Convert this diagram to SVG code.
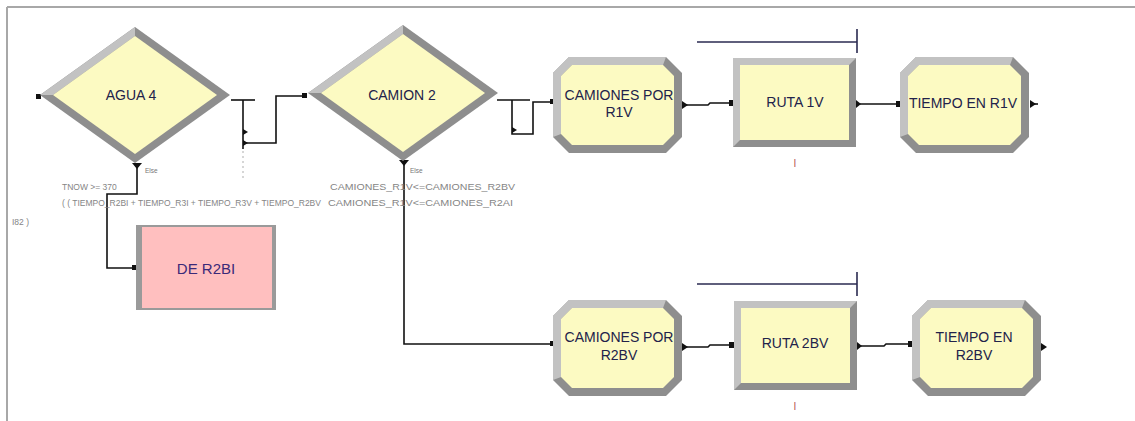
<svg xmlns="http://www.w3.org/2000/svg" width="1135" height="421" viewBox="0 0 1135 421">
<style>
.frame{stroke:#a8a8a8;stroke-width:2;fill:none}
.conn{stroke:#111;stroke-width:1.6;fill:none}
.port{fill:#111}
.dot{stroke:#bbb;stroke-width:1.2;stroke-dasharray:2 3;fill:none}
.lbl{font-family:"Liberation Sans",Arial,sans-serif;font-size:14px;fill:#22224a;text-anchor:middle}
.small{font-family:"Liberation Sans",Arial,sans-serif;font-size:8.5px;fill:#858585}
.tiny{font-family:"Liberation Sans",Arial,sans-serif;font-size:6.5px;fill:#777}
.bar{stroke:#2a2a50;stroke-width:1.6;fill:none}
.mark{font-family:"Liberation Sans",Arial,sans-serif;font-size:10px;fill:#b85050;text-anchor:middle}
.yel{fill:#fcfac2}
.dark{fill:#8e8e8e}
.light{fill:#c2c2c2}
</style>
<defs>
<g id="diamond">
<polygon class="dark" points="-95,0 0,-68 95,0 0,68"/>
<polygon class="light" points="-95,0 0,-68 0,-59 -82,0"/>
<polygon class="yel" points="-82,0 0,-59 82,0 0,59"/>
</g>
<g id="oct">
<polygon class="dark" points="16,0 113,0 129,16 129,80 113,96 16,96 0,80 0,16"/>
<polygon class="light" points="16,0 113,0 110,8 19,8 8,19 8,77 0,80 0,16"/>
<polygon class="yel" points="19,8 110,8 121,19 121,77 110,88 19,88 8,77 8,19"/>
</g>
<g id="rect">
<rect class="dark" x="0" y="0" width="123" height="89"/>
<polygon class="light" points="0,0 123,0 116,7 7,7 7,82 0,89"/>
<rect class="yel" x="7" y="7" width="109" height="75"/>
</g>
</defs>
<line class="frame" x1="7" y1="7" x2="1135" y2="7"/>
<line class="frame" x1="7" y1="7" x2="7" y2="421"/>
<g id="connectors">
<polyline class="conn" points="231,100 255,100"/>
<polyline class="conn" points="243,100 243,149"/>
<polyline class="conn" points="243,143 276,143 276,96 303,96"/>
<polygon class="port" points="243,129 243,135 248,132"/>
<polygon class="port" points="243,140 243,146 248,143"/>
<line class="dot" x1="243" y1="151" x2="243" y2="180"/>
<rect class="port" x="302" y="93" width="5" height="5"/>
<rect class="port" x="36" y="94" width="5" height="5"/>
<polygon class="port" points="132,163 142,163 137,169"/>
<polyline class="conn" points="137,166 137,194 107,194 107,268 133,268"/>
<rect class="port" x="132" y="265" width="5" height="5"/>
<polyline class="conn" points="497,100 530,100"/>
<polyline class="conn" points="512,100 512,134 533,134 533,102 551,102"/>
<polygon class="port" points="512,127 512,133 517,130"/>
<rect class="port" x="550" y="99" width="5" height="5"/>
<polygon class="port" points="399,160 409,160 404,166"/>
<polyline class="conn" points="404,163 404,344 551,344"/>
<rect class="port" x="550" y="341" width="5" height="5"/>
<polygon class="port" points="682,101 682,109 688,105"/>
<polyline class="conn" points="686,105 708,105 710,103 731,103"/>
<rect class="port" x="729" y="100" width="5" height="6"/>
<polygon class="port" points="856,100 856,108 861,104"/>
<polyline class="conn" points="860,104 898,104"/>
<rect class="port" x="896" y="101" width="5" height="6"/>
<polygon class="port" points="1030,100 1030,108 1036,104"/>
<line class="conn" x1="1034" y1="104" x2="1038" y2="104"/>
<polygon class="port" points="682,343 682,351 688,347"/>
<polyline class="conn" points="686,347 708,347 710,345 731,345"/>
<rect class="port" x="729" y="342" width="5" height="6"/>
<polygon class="port" points="857,342 857,350 862,346"/>
<polyline class="conn" points="861,346 884,346 886,344 910,344"/>
<rect class="port" x="908" y="341" width="5" height="6"/>
<polygon class="port" points="1041,343 1041,351 1047,347"/>
</g>
<g id="agua4">
<use href="#diamond" x="135" y="95"/>
<text class="lbl" x="131" y="100">AGUA 4</text>
<text class="tiny" x="145" y="173">Else</text>
<text class="small" x="62" y="190">TNOW &gt;= 370</text>
<text class="small" x="62" y="206">( ( TIEMPO_R2BI + TIEMPO_R3I + TIEMPO_R3V + TIEMPO_R2BV</text>
<text class="small" x="12" y="225">I82 )</text>
</g>
<g id="camion2">
<use href="#diamond" x="403" y="93"/>
<text class="lbl" x="402" y="100">CAMION 2</text>
<text class="tiny" x="410" y="173">Else</text>
<text class="small" x="330" y="190" textLength="185" lengthAdjust="spacingAndGlyphs">CAMIONES_R1V&lt;=CAMIONES_R2BV</text>
<text class="small" x="328" y="206" textLength="185" lengthAdjust="spacingAndGlyphs">CAMIONES_R1V&lt;=CAMIONES_R2AI</text>
</g>
<g id="der2bi">
<rect x="136" y="225" width="140" height="85" fill="#9a9a9a"/>
<rect x="142" y="227" width="130" height="81" fill="#ffbfbf"/>
<text class="lbl" x="206" y="274" style="font-size:15px;fill:#3b2a78">DE R2BI</text>
</g>
<g id="camiones-r1v">
<use href="#oct" x="553" y="57"/>
<text class="lbl" x="619" y="100">CAMIONES POR</text>
<text class="lbl" x="619" y="117">R1V</text>
</g>
<g id="ruta1v">
<line class="bar" x1="697" y1="42" x2="857" y2="42"/>
<line class="bar" x1="857" y1="29" x2="857" y2="53"/>
<use href="#rect" x="733" y="58"/>
<text class="lbl" x="795" y="107">RUTA 1V</text>
<text class="mark" x="795" y="167">I</text>
</g>
<g id="tiempo-r1v">
<use href="#oct" x="900" y="57"/>
<text class="lbl" x="963" y="108">TIEMPO EN R1V</text>
</g>
<g id="camiones-r2bv">
<use href="#oct" x="553" y="300"/>
<text class="lbl" x="619" y="342">CAMIONES POR</text>
<text class="lbl" x="619" y="360">R2BV</text>
</g>
<g id="ruta2bv">
<line class="bar" x1="697" y1="284" x2="857" y2="284"/>
<line class="bar" x1="857" y1="272" x2="857" y2="296"/>
<use href="#rect" x="734" y="301"/>
<text class="lbl" x="795" y="348">RUTA 2BV</text>
<text class="mark" x="795" y="410">I</text>
</g>
<g id="tiempo-r2bv">
<use href="#oct" x="912" y="300"/>
<text class="lbl" x="974" y="342">TIEMPO EN</text>
<text class="lbl" x="974" y="360">R2BV</text>
</g>
</svg>
